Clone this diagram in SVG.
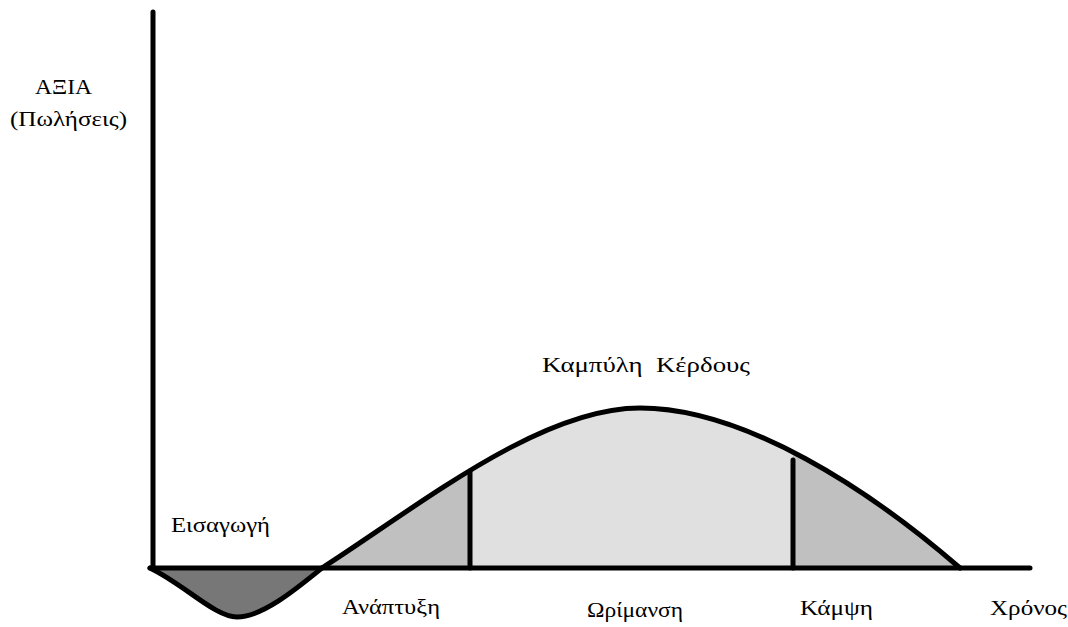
<svg xmlns="http://www.w3.org/2000/svg" width="1068" height="627" viewBox="0 0 1068 627">
<style>
text{font-family:"Liberation Serif","Times New Roman",serif;font-size:21px;fill:#000}
.ln{stroke:#000;stroke-width:5;fill:none;stroke-linecap:round;stroke-linejoin:round}
</style>
<defs>
<clipPath id="bell"><path d="M322,568 C420,505 540,408 640,408 C745,408 870,490 960,568 Z"/></clipPath>
</defs>
<rect width="1068" height="627" fill="#fff"/>
<g id="fills">
<path d="M150,568 C185,585 215,617 237,617 C262,617 295,590 322,568 Z" fill="#777"/>
<path d="M322,568 C420,505 540,408 640,408 C745,408 870,490 960,568 Z" fill="#c0c0c0"/>
<rect x="470" y="400" width="323" height="170" fill="#e0e0e0" clip-path="url(#bell)"/>
</g>
<g id="connectors">
<path class="ln" d="M153,12 V568"/>
<path class="ln" d="M150,568 H1030"/>
<path class="ln" d="M150,568 C185,585 215,617 237,617 C262,617 295,590 322,568"/>
<path class="ln" d="M322,568 C420,505 540,408 640,408 C745,408 870,490 960,568"/>
<path class="ln" d="M470,472 V568"/>
<path class="ln" d="M793,460 V568"/>
</g>
<g id="axis-label"><text x="35" y="94" textLength="57" lengthAdjust="spacingAndGlyphs">ΑΞΙΑ</text><text x="10" y="126" textLength="117" lengthAdjust="spacingAndGlyphs">(Πωλήσεις)</text></g>
<g id="intro"><text x="171" y="532" textLength="99" lengthAdjust="spacingAndGlyphs">Εισαγωγή</text></g>
<g id="growth"><text x="342" y="614" textLength="98" lengthAdjust="spacingAndGlyphs">Ανάπτυξη</text></g>
<g id="profit"><text x="542" y="372" xml:space="preserve" textLength="208" lengthAdjust="spacingAndGlyphs">Καμπύλη  Κέρδους</text></g>
<g id="maturity"><text x="587" y="617" textLength="96" lengthAdjust="spacingAndGlyphs">Ωρίμανση</text></g>
<g id="decline"><text x="800" y="615" textLength="73" lengthAdjust="spacingAndGlyphs">Κάμψη</text></g>
<g id="time"><text x="990" y="615" textLength="77" lengthAdjust="spacingAndGlyphs">Χρόνος</text></g>
</svg>
